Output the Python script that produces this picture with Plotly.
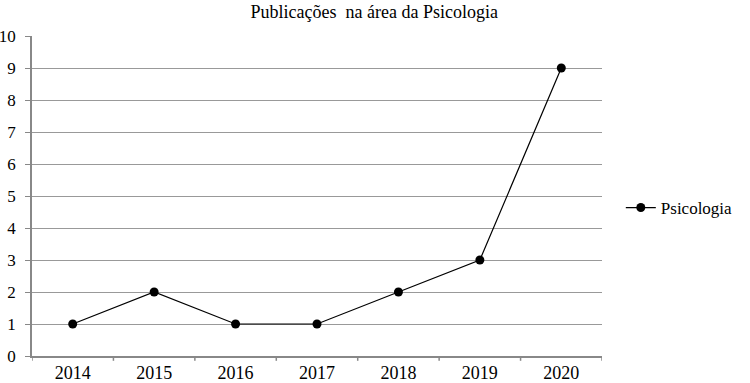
import plotly.graph_objects as go

years = ["2014", "2015", "2016", "2017", "2018", "2019", "2020"]
psicologia = [1, 2, 1, 1, 2, 3, 9]
y_ticks = list(range(0, 11))

font_family = "Liberation Serif, Times New Roman, serif"

fig = go.Figure()
fig.add_trace(go.Scatter(
    x=years, y=psicologia, mode="lines+markers", name="Psicologia",
    line=dict(color="black", width=1.2),
    marker=dict(color="black", size=9, symbol="circle"),
))

fig.update_layout(
    width=750, height=383,
    margin=dict(l=32, r=148, t=36, b=27),
    paper_bgcolor="white", plot_bgcolor="white",
    font=dict(family=font_family, size=16, color="black"),
    title=dict(text="Publicações  na área da Psicologia", x=0.499, xanchor="center",
               xref="container", y=0.969, yref="container", yanchor="middle",
               font=dict(size=18)),
    showlegend=True,
    legend=dict(x=1.033, y=0.4625, xanchor="left", yanchor="middle",
                font=dict(size=17), bgcolor="rgba(0,0,0,0)", itemwidth=30,
                borderwidth=0),
    xaxis=dict(
        type="category", showgrid=False, showline=True, linecolor="#888888", linewidth=1.5,
        ticks="", tickfont=dict(size=18), range=[-0.5, 6.5], automargin=False,
    ),
    yaxis=dict(
        range=[0, 10], tickvals=y_ticks, showgrid=True, gridcolor="#999999", gridwidth=1.2,
        showline=True, linecolor="#888888", linewidth=1.5, ticks="outside", ticklen=5,
        tickcolor="#888888", tickfont=dict(size=17), zeroline=False, automargin=False,
        ticklabelstandoff=6,
    ),
)

# category boundary tick marks on x axis
for i in range(8):
    fig.add_shape(type="line", xref="x", yref="paper", x0=i - 0.5, x1=i - 0.5,
                  y0=0, y1=-0.015, line=dict(color="#888888", width=1.5))

fig.write_html("out.html", config={"displayModeBar": False},
               post_script="document.body.style.margin='0';")
